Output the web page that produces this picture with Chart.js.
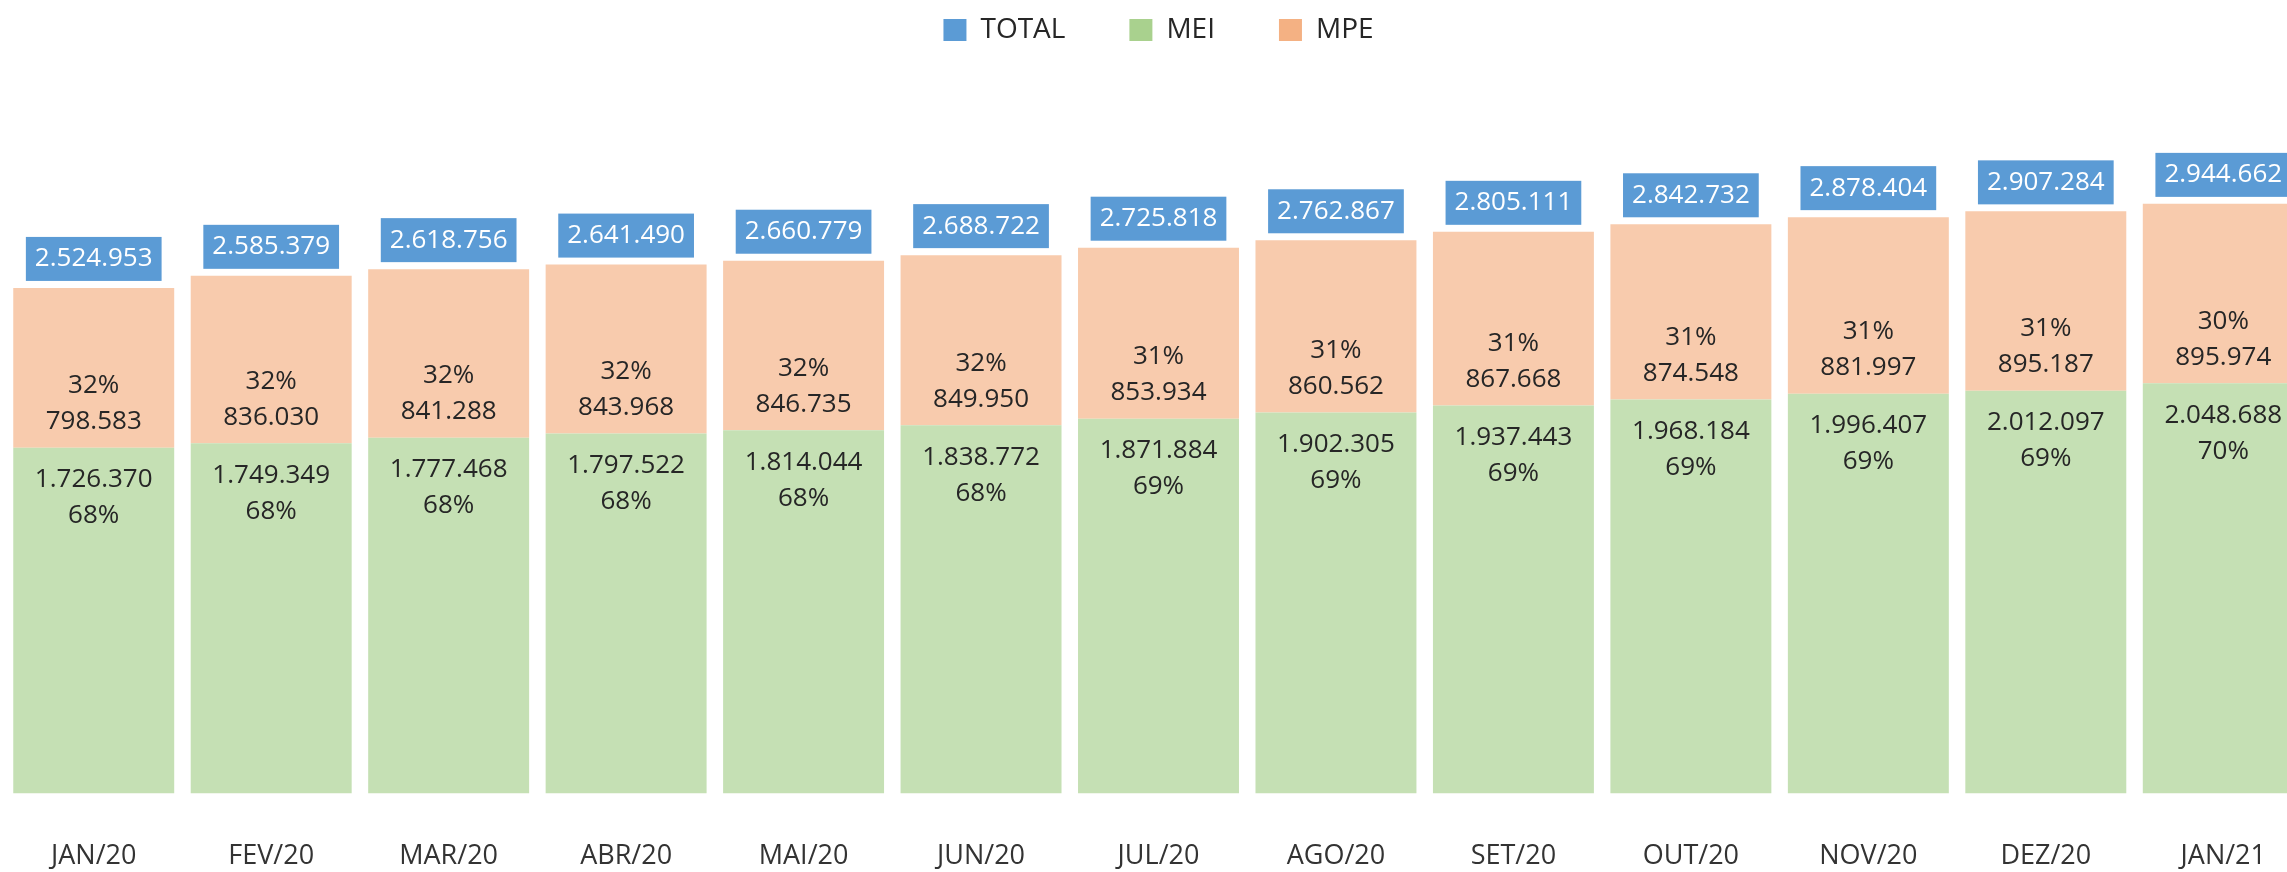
<!DOCTYPE html>
<html>
<head>
<meta charset="utf-8">
<script src="https://cdn.jsdelivr.net/npm/chart.js@4.4.1/dist/chart.umd.min.js"></script>
<style>
  html, body { margin: 0; padding: 0; background: #fff; overflow: hidden; }
  #wrap { width: 2316px; height: 872px; }
</style>
</head>
<body>
<div id="wrap"><canvas id="chart"></canvas></div>
<script>
// Monthly counts.
const MONTHS = ["JAN/20", "FEV/20", "MAR/20", "ABR/20", "MAI/20", "JUN/20", "JUL/20",
                "AGO/20", "SET/20", "OUT/20", "NOV/20", "DEZ/20", "JAN/21"];
const TOTAL = [2524953, 2585379, 2618756, 2641490, 2660779, 2688722, 2725818,
               2762867, 2805111, 2842732, 2878404, 2907284, 2944662];
const MEI = [1726370, 1749349, 1777468, 1797522, 1814044, 1838772, 1871884,
             1902305, 1937443, 1968184, 1996407, 2012097, 2048688];
const MPE = [798583, 836030, 841288, 843968, 846735, 849950, 853934,
             860562, 867668, 874548, 881997, 895187, 895974];
const MEI_PCT = [68, 68, 68, 68, 68, 68, 69, 69, 69, 69, 69, 69, 70];
const MPE_PCT = [32, 32, 32, 32, 32, 32, 31, 31, 31, 31, 31, 31, 30];

const BLUE = "#5b9bd5";
const GREEN = "#a9d18e";
const ORANGE = "#f4b183";
const GREEN_BAR = "#c5e0b4";
const ORANGE_BAR = "#f8cbad";
const INK = "#262626";
const FONT = '"Open Sans", sans-serif';

const fmt = (v) => String(v).replace(/\B(?=(\d{3})+(?!\d))/g, ".");

// value / percent labels inside the stacks + blue total boxes on top
const barLabels = {
  id: "barLabels",
  afterDatasetsDraw(chart) {
    const ctx = chart.ctx;
    const tot = chart.getDatasetMeta(0).data;
    const mei = chart.getDatasetMeta(1).data;
    const mpe = chart.getDatasetMeta(2).data;
    ctx.save();
    ctx.textAlign = "center";
    ctx.textBaseline = "middle";
    ctx.font = `26px ${FONT}`;
    ctx.fillStyle = INK;
    mei.forEach((bar, i) => {
      const cy = bar.y + 50;
      ctx.fillText(fmt(MEI[i]), bar.x, cy - 18);
      ctx.fillText(MEI_PCT[i] + "%", bar.x, cy + 18);
    });
    mpe.forEach((bar, i) => {
      const cy = bar.base - 44;
      ctx.fillText(MPE_PCT[i] + "%", bar.x, cy - 18);
      ctx.fillText(fmt(MPE[i]), bar.x, cy + 18);
    });
    tot.forEach((pt, i) => {
      const txt = fmt(TOTAL[i]);
      const w = ctx.measureText(txt).width + 18;
      const h = 44;
      const bottom = pt.y - 7;
      ctx.fillStyle = BLUE;
      ctx.fillRect(pt.x - w / 2, bottom - h, w, h);
      ctx.fillStyle = "#fff";
      ctx.fillText(txt, pt.x, bottom - h / 2);
    });
    ctx.restore();
  },
};

const LEGEND_COLORS = [BLUE, GREEN, ORANGE];

new Chart(document.getElementById("chart"), {
  type: "bar",
  data: {
    labels: MONTHS,
    datasets: [
      {
        type: "line",
        label: "TOTAL",
        data: TOTAL,
        stack: "total",
        showLine: false,
        pointRadius: 0,
        borderWidth: 0,
        backgroundColor: BLUE,
        borderColor: BLUE,
      },
      { label: "MEI", data: MEI, backgroundColor: GREEN_BAR },
      { label: "MPE", data: MPE, backgroundColor: ORANGE_BAR },
    ],
  },
  options: {
    responsive: true, maintainAspectRatio: false,
    animation: false,
    layout: { padding: { top: -48, left: 5, right: 4, bottom: -48 } },
    datasets: { bar: { categoryPercentage: 1, barPercentage: 0.907 } },
    plugins: {
      tooltip: { enabled: false },
      legend: {
        position: "top",
        labels: {
          boxWidth: 23, boxHeight: 22, padding: 64,
          color: INK,
          font: { family: FONT, size: 28 },
          generateLabels(chart) {
            const items = Chart.defaults.plugins.legend.labels.generateLabels(chart);
            items.forEach((it, i) => {
              it.fillStyle = LEGEND_COLORS[i];
              it.strokeStyle = LEGEND_COLORS[i];
              it.lineWidth = 0;
            });
            return items;
          },
        },
      },
    },
    scales: {
      x: {
        stacked: true,
        grid: { display: false, drawTicks: false },
        border: { display: false },
        ticks: { color: "#333333", padding: 47, font: { family: FONT, size: 27 } },
      },
      y: { stacked: true, display: false, min: 0, max: 3693000 },
    },
  },
  plugins: [barLabels],
});
</script>
</body>
</html>
